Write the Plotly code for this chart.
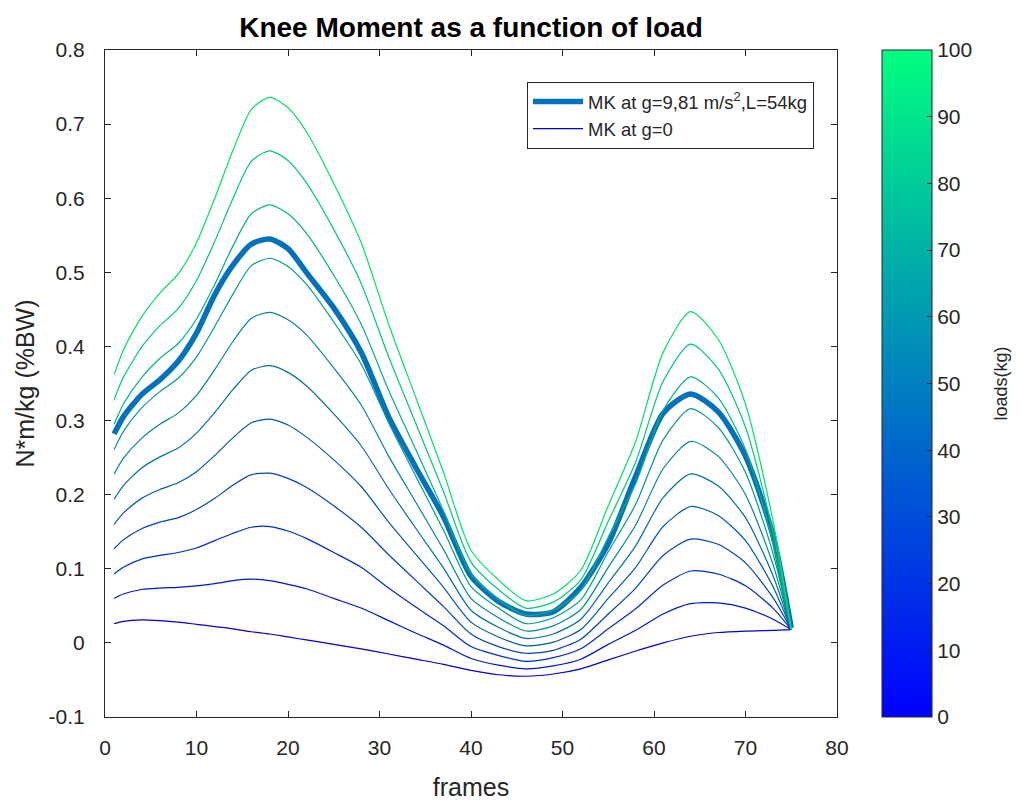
import plotly.graph_objects as go
from plotly.colors import sample_colorscale

# ---------------- data ----------------
frames = [1, 2, 4, 6, 8, 10, 12, 14, 16, 18, 20, 22, 25, 28, 31, 34, 37, 40, 43, 46,
          49, 52, 55, 58, 61, 64, 67, 70, 73, 75]

loads = [0, 10, 20, 30, 40, 50, 60, 70, 80, 90, 100]

mk_load_0 = [0.026, 0.029, 0.031, 0.030, 0.028, 0.025, 0.022, 0.019, 0.015, 0.012, 0.008, 0.004, -0.002, -0.008, -0.015,
             -0.022, -0.029, -0.037, -0.043, -0.045, -0.042, -0.035, -0.023, -0.011, 0.000, 0.009, 0.014, 0.016, 0.017, 0.018]
mk_load_10 = [0.060, 0.066, 0.072, 0.074, 0.075, 0.077, 0.080, 0.084, 0.086, 0.084, 0.079, 0.073, 0.060, 0.047, 0.030,
              0.013, -0.003, -0.021, -0.030, -0.035, -0.031, -0.022, -0.002, 0.017, 0.039, 0.053, 0.054, 0.047, 0.032, 0.018]
mk_load_20 = [0.093, 0.102, 0.113, 0.118, 0.122, 0.128, 0.138, 0.148, 0.156, 0.157, 0.151, 0.141, 0.122, 0.102, 0.074,
              0.048, 0.023, -0.005, -0.017, -0.025, -0.020, -0.008, 0.019, 0.046, 0.078, 0.097, 0.093, 0.077, 0.047, 0.018]
mk_load_30 = [0.127, 0.139, 0.154, 0.163, 0.169, 0.180, 0.195, 0.213, 0.227, 0.229, 0.222, 0.210, 0.185, 0.156, 0.119,
              0.084, 0.049, 0.012, -0.005, -0.014, -0.010, 0.005, 0.039, 0.074, 0.118, 0.140, 0.133, 0.108, 0.061, 0.018]
mk_load_40 = [0.160, 0.175, 0.195, 0.207, 0.216, 0.231, 0.253, 0.277, 0.297, 0.302, 0.294, 0.278, 0.247, 0.211, 0.163,
              0.119, 0.075, 0.028, 0.008, -0.004, 0.001, 0.018, 0.060, 0.102, 0.157, 0.184, 0.172, 0.138, 0.076, 0.018]
mk_load_50 = [0.194, 0.212, 0.236, 0.251, 0.263, 0.283, 0.311, 0.342, 0.368, 0.374, 0.365, 0.347, 0.309, 0.266, 0.208,
              0.154, 0.101, 0.044, 0.021, 0.006, 0.012, 0.032, 0.081, 0.131, 0.196, 0.228, 0.212, 0.169, 0.091, 0.018]
mk_load_60 = [0.228, 0.249, 0.276, 0.295, 0.310, 0.334, 0.369, 0.407, 0.438, 0.446, 0.436, 0.416, 0.371, 0.321, 0.252,
              0.189, 0.126, 0.060, 0.034, 0.016, 0.023, 0.045, 0.102, 0.159, 0.235, 0.272, 0.252, 0.200, 0.106, 0.018]
mk_load_70 = [0.261, 0.285, 0.317, 0.339, 0.357, 0.386, 0.427, 0.471, 0.509, 0.519, 0.508, 0.484, 0.433, 0.376, 0.297,
              0.224, 0.152, 0.076, 0.047, 0.026, 0.034, 0.058, 0.123, 0.187, 0.274, 0.316, 0.291, 0.230, 0.121, 0.018]
mk_load_80 = [0.295, 0.322, 0.358, 0.384, 0.404, 0.437, 0.484, 0.536, 0.579, 0.591, 0.579, 0.553, 0.496, 0.430, 0.341,
              0.260, 0.178, 0.093, 0.059, 0.037, 0.044, 0.071, 0.143, 0.215, 0.314, 0.359, 0.331, 0.261, 0.135, 0.018]
mk_load_90 = [0.328, 0.358, 0.399, 0.428, 0.451, 0.489, 0.542, 0.600, 0.650, 0.664, 0.651, 0.621, 0.558, 0.485, 0.386,
              0.295, 0.204, 0.109, 0.072, 0.047, 0.055, 0.085, 0.164, 0.244, 0.353, 0.403, 0.370, 0.291, 0.150, 0.018]
mk_load_100 = [0.362, 0.395, 0.440, 0.472, 0.498, 0.540, 0.600, 0.665, 0.720, 0.736, 0.722, 0.690, 0.620, 0.540, 0.430,
               0.330, 0.230, 0.125, 0.085, 0.057, 0.066, 0.098, 0.185, 0.272, 0.392, 0.447, 0.410, 0.322, 0.165, 0.018]

mk_measured_54kg = [0.282, 0.305, 0.335, 0.355, 0.380, 0.418, 0.470, 0.510, 0.538, 0.545, 0.532, 0.500, 0.452, 0.392, 0.305,
                    0.236, 0.170, 0.090, 0.056, 0.039, 0.042, 0.075, 0.134, 0.225, 0.310, 0.336, 0.312, 0.252, 0.145, 0.020]

curves_by_load = [mk_load_0, mk_load_10, mk_load_20, mk_load_30, mk_load_40, mk_load_50,
                  mk_load_60, mk_load_70, mk_load_80, mk_load_90, mk_load_100]

y_ticks = [-0.1, 0, 0.1, 0.2, 0.3, 0.4, 0.5, 0.6, 0.7, 0.8]
y_ticklabels = ["-0.1", "0", "0.1", "0.2", "0.3", "0.4", "0.5", "0.6", "0.7", "0.8"]
x_ticks = [0, 10, 20, 30, 40, 50, 60, 70, 80]
cbar_ticks = [0, 10, 20, 30, 40, 50, 60, 70, 80, 90, 100]

# ---------------- styling ----------------
FONT = "Liberation Sans, Arial, Helvetica, sans-serif"
TXT = "#262626"
winter = [[0.0, "rgb(0,0,255)"], [1.0, "rgb(0,255,128)"]]
# thin curves: winter colours, rendered slightly deeper as in the reference
line_winter = [[0.0, "rgb(0,0,215)"], [1.0, "rgb(0,225,105)"]]
line_colors = sample_colorscale(line_winter, [l / 100 for l in loads])

fig = go.Figure()

fig.add_trace(go.Scatter(
    x=frames, y=mk_measured_54kg, mode="lines",
    line=dict(color="rgb(0,114,189)", width=5.5, shape="spline", smoothing=0.7),
    name="MK at g=9,81 m/s<sup>2</sup>,L=54kg",
))

for i, (load, curve) in enumerate(zip(loads, curves_by_load)):
    fig.add_trace(go.Scatter(
        x=frames, y=curve, mode="lines",
        line=dict(color=line_colors[i], width=1.2, shape="spline", smoothing=0.7),
        name="MK at g=0" if load == 0 else f"{load} kg",
        showlegend=(load == 0),
    ))

# colour bar carrier
fig.add_trace(go.Scatter(
    x=[frames[0]], y=[mk_load_0[0]], mode="markers", showlegend=False, hoverinfo="skip",
    marker=dict(size=0, opacity=0, color=[loads[0]], colorscale=winter, cmin=loads[0], cmax=loads[-1],
                showscale=True,
                colorbar=dict(
                    thickness=50, thicknessmode="pixels", len=1, lenmode="fraction",
                    x=(882 - 105) / 732, xanchor="left", xpad=0, y=0.5, yanchor="middle", ypad=0,
                    outlinewidth=1, outlinecolor=TXT,
                    tickvals=cbar_ticks, ticks="inside", ticklen=5, tickcolor=TXT,
                    tickfont=dict(family=FONT, size=21, color=TXT),
                )),
))

fig.update_layout(
    width=1025, height=803,
    margin=dict(l=105, r=188, t=50, b=86, autoexpand=False),
    paper_bgcolor="white", plot_bgcolor="white",
    font=dict(family=FONT, color=TXT),
    title=dict(text="<b>Knee Moment as a function of load</b>", x=0.5, xref="paper", xanchor="center",
               y=1 - 27 / 803, yref="container", yanchor="middle",
               font=dict(family=FONT, size=28, color="black")),
    showlegend=True,
    legend=dict(x=(527 - 105) / 732, y=1 - (82 - 50) / 667, xanchor="left", yanchor="top",
                bgcolor="white", bordercolor=TXT, borderwidth=1,
                font=dict(family=FONT, size=18.5, color=TXT), itemwidth=50,
                tracegroupgap=0),
    annotations=[dict(text="loads(kg)", textangle=-90, xref="paper", yref="paper",
                      x=(1000 - 105) / 732, y=0.5, xanchor="center", yanchor="middle",
                      showarrow=False, font=dict(family=FONT, size=18, color=TXT))],
)

fig.update_xaxes(
    range=[0, 80], tickvals=x_ticks, ticks="inside", ticklen=6, tickcolor=TXT,
    showline=True, linecolor=TXT, linewidth=1, mirror="ticks", showgrid=False, zeroline=False,
    automargin=False,
    tickfont=dict(family=FONT, size=21, color=TXT), ticklabelstandoff=12,
    title=dict(text="frames", font=dict(family=FONT, size=25, color=TXT), standoff=20),
)
fig.update_yaxes(
    range=[-0.1, 0.8], tickvals=y_ticks, ticktext=y_ticklabels, ticks="inside", ticklen=6, tickcolor=TXT,
    showline=True, linecolor=TXT, linewidth=1, mirror="ticks", showgrid=False, zeroline=False,
    automargin=False,
    tickfont=dict(family=FONT, size=21, color=TXT), ticklabelstandoff=15,
    title=dict(text="N*m/kg (%BW)", font=dict(family=FONT, size=25, color=TXT), standoff=6),
)

fig.write_html("out.html")
